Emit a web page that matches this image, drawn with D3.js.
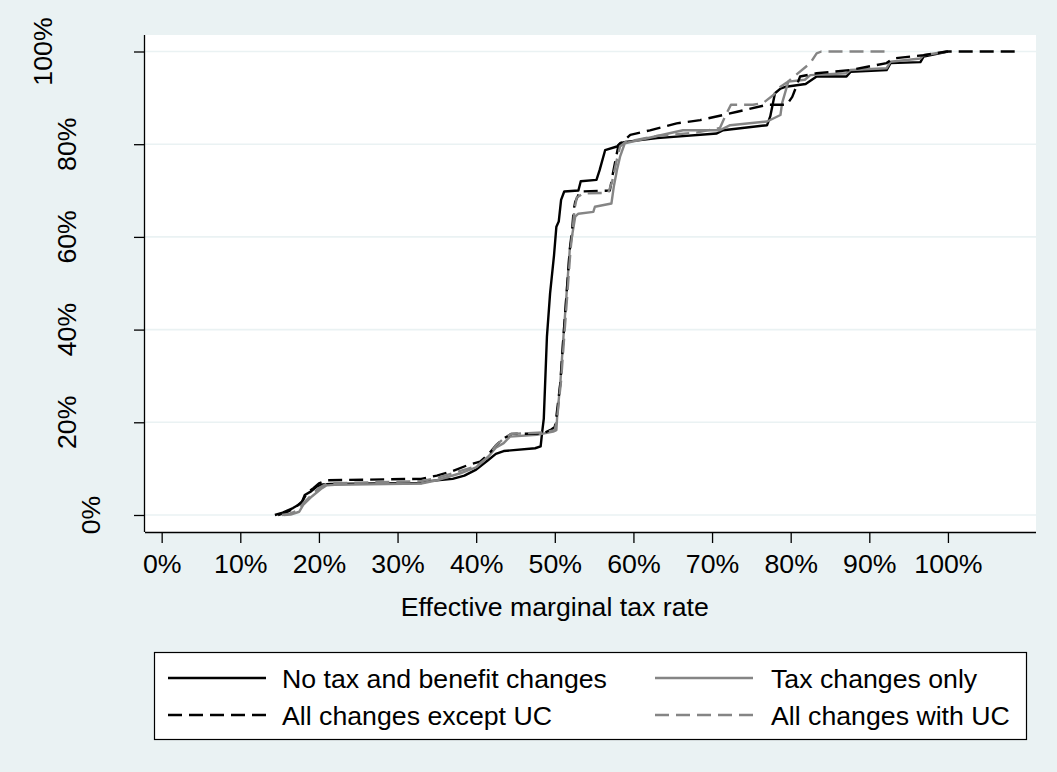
<!DOCTYPE html>
<html><head><meta charset="utf-8">
<script src="https://cdn.jsdelivr.net/npm/d3@7"></script>
<style>
body{margin:0;background:#eaf2f3;}
svg{display:block;font-family:"Liberation Sans",Arial,sans-serif;}
</style>
</head><body>
<svg id="chart" width="1057" height="772"></svg>
<script>
// ---- data (x = effective marginal tax rate %, y = cumulative share %) ----
const xTicks = [0,10,20,30,40,50,60,70,80,90,100];
const xTickLabels = ["0%","10%","20%","30%","40%","50%","60%","70%","80%","90%","100%"];
const yTicks = [0,20,40,60,80,100];
const yTickLabels = ["0%","20%","40%","60%","80%","100%"];
const xTitle = "Effective marginal tax rate";
const seriesNames = ["No tax and benefit changes","Tax changes only","All changes except UC","All changes with UC"];

const noChanges = [[14.4,0],[15.4,0.5],[16.7,1.5],[17.8,2.6],[18.2,4.3],[19.0,5.1],[19.7,6.1],[20.5,6.6],[21.5,6.7],[33,6.9],[34,7.3],[37,7.8],[38.5,8.5],[40,9.8],[41.5,11.8],[42.5,13.2],[43.5,13.8],[47.5,14.4],[48.2,14.8],[48.4,18],[48.6,20.8],[49.0,38.5],[49.4,47.8],[49.9,56],[50.2,62.2],[50.5,63.3],[50.8,68],[51.2,69.8],[53.0,70],[53.3,72],[55.3,72.3],[55.7,74.4],[56.4,78.7],[57.9,79.5],[58.3,80.2],[59,80.5],[63,81.3],[70.6,82.3],[71.4,83],[77,84.1],[77.4,86],[78,91],[78.7,92],[79.4,92.4],[81.9,93],[83.3,94.6],[87.1,94.6],[87.6,95.6],[92.2,96],[92.7,97.5],[96.5,97.7],[96.9,98.9],[100,100]];

const taxOnly = [[15.5,0],[16.4,0.1],[17.5,0.7],[18.0,2.2],[19.1,4],[20.4,5.8],[21.0,6.4],[22,6.5],[33,6.8],[35,7.5],[38,9],[40,10.3],[41.5,12.5],[42.5,14.5],[43.5,15.5],[44.3,16.9],[47.7,17.3],[49.8,18],[50.2,18.3],[50.3,21.2],[50.7,28.4],[51.1,38.5],[51.5,47.8],[51.9,57.2],[52.6,64.4],[53.0,65],[54.9,65.4],[55.1,66.5],[57.2,67.2],[57.5,70.8],[57.9,74.4],[58.3,77.3],[58.9,80.2],[66.3,83],[71,83],[72.3,84.1],[77,84.9],[78.7,86.3],[78.9,88.8],[79.7,93.5],[81.8,93.9],[82.5,94.9],[87.1,95.3],[87.6,96],[92.2,96.4],[92.7,97.8],[96.5,98.5],[96.9,99.2],[99.9,100]];

const exceptUC = [[14.8,0],[15.8,0.5],[17,1.6],[17.9,3],[18.5,4.8],[19.3,5.8],[20,6.8],[21,7.5],[33,7.8],[35,8.5],[37,9.5],[39,10.8],[40.5,11.5],[41.5,13],[42.5,15],[43.5,16.5],[44.5,17.5],[48.5,17.6],[49.6,18.5],[50.0,19],[50.2,21.2],[50.7,28.4],[51.1,38.5],[51.5,47.8],[51.9,57.2],[52.2,61.5],[52.4,65.8],[52.6,67.6],[53.2,69.8],[57,70],[57.4,73.8],[58.1,79.8],[59.6,82],[62.1,83],[65.5,84.5],[68.5,85.2],[71.4,86.3],[73.2,87],[77,88.5],[79.5,88.5],[80.2,90.2],[81.2,94.6],[83.3,95.3],[87.6,96],[92.2,97.5],[93,98.5],[96.9,99.2],[99.9,100],[109.2,100]];

const withUC = [[15.3,0],[16.3,0.3],[17.3,1],[18,2.5],[19,4.2],[20,5.8],[21,6.8],[33,7.3],[35,8],[38,9.5],[40,10.5],[41.5,12.5],[42.5,15],[43.5,16.5],[44.5,17.5],[48.5,17.8],[50,18.3],[50.3,21],[50.8,29],[51.2,38.5],[51.6,47.8],[52,57.2],[52.3,62],[52.5,66],[52.8,68.5],[53.6,69.4],[56.8,69.5],[57.3,72],[57.8,76],[58.3,79.5],[59,80.5],[63,81.8],[68,82.5],[71,83.5],[71.8,86.5],[72.4,88.5],[75.2,88.5],[76.5,88.9],[77.8,90.6],[78.7,92.4],[79.5,93.3],[82.5,97.5],[83.3,99.6],[83.9,100],[92.7,100]];

const seriesData = [noChanges, taxOnly, exceptUC, withUC];
const seriesColors = ["#000000","#858585","#000000","#858585"];
const seriesDash = [null,null,"14,7","14,7"];

// ---- layout ----
const FS = 26.7;
const LW = 2.4;
const svg = d3.select("#chart");
const bg = "#eaf2f3";
svg.append("rect").attr("width",1057).attr("height",772).attr("fill",bg);

const plot = {left:145, top:35, right:1036, bottom:532};
const x = d3.scaleLinear().domain([-2.12, 111.2]).range([plot.left, plot.right]);
const y = d3.scaleLinear().domain([-3.67, 103.56]).range([plot.bottom, plot.top]);

svg.append("rect").attr("x",plot.left).attr("y",plot.top)
  .attr("width",plot.right-plot.left).attr("height",plot.bottom-plot.top).attr("fill","#ffffff");

// gridlines
svg.append("g").selectAll("line").data(yTicks).join("line")
  .attr("x1",plot.left).attr("x2",plot.right)
  .attr("y1",d=>y(d)).attr("y2",d=>y(d))
  .attr("stroke",bg).attr("stroke-width",1.6);

// series
const line = d3.line().x(d=>x(d[0])).y(d=>y(d[1]));
seriesData.forEach((s,i)=>{
  svg.append("path").datum(s).attr("d",line)
    .attr("fill","none").attr("stroke",seriesColors[i])
    .attr("stroke-width",LW).attr("stroke-linejoin","round")
    .attr("stroke-dasharray",seriesDash[i]);
});

// x axis
const xAxis = d3.axisBottom(x).tickValues(xTicks).tickSize(11).tickPadding(11)
  .tickFormat((d,i)=>xTickLabels[i]);
const gx = svg.append("g").attr("transform",`translate(0,${plot.bottom})`).call(xAxis);
gx.select(".domain").attr("stroke","#000").attr("stroke-width",1.3)
  .attr("d",`M${plot.left},0.5H${plot.right}`);
gx.selectAll(".tick line").attr("stroke","#000").attr("stroke-width",1.3);
gx.selectAll(".tick text").attr("font-size",FS).attr("fill","#000")
  .attr("font-family","'Liberation Sans',Arial,sans-serif");

// y axis
const yAxis = d3.axisLeft(y).tickValues(yTicks).tickSize(11).tickFormat("");
const gy = svg.append("g").attr("transform",`translate(${plot.left},0)`).call(yAxis);
gy.select(".domain").attr("stroke","#000").attr("stroke-width",1.3)
  .attr("d",`M-0.5,${plot.top}V${plot.bottom}`);
gy.selectAll(".tick line").attr("stroke","#000").attr("stroke-width",1.3);

const ylab = svg.append("g").selectAll("text").data(yTicks).join("text")
  .attr("font-size",FS).attr("fill","#000")
  .attr("text-anchor","middle").attr("dominant-baseline","central")
  .text((d,i)=>yTickLabels[i]);
ylab.each(function(d){
  const w = this.getComputedTextLength();
  const cx = plot.left + 7.3 - 1.6*w;
  d3.select(this).attr("transform",`translate(${cx},${y(d)}) rotate(-90)`);
});

// x title
svg.append("text").attr("x",x(50)).attr("y",616).attr("text-anchor","middle")
  .attr("font-size",FS).attr("fill","#000").text(xTitle);

// legend
const lg = svg.append("g");
lg.append("rect").attr("x",154.5).attr("y",652.5).attr("width",872).attr("height",87)
  .attr("fill","#fff").attr("stroke","#000").attr("stroke-width",1.2);
const legPos = [
  {lx:168, tx:282, ly:678},
  {lx:655, tx:771, ly:678},
  {lx:168, tx:282, ly:715},
  {lx:655, tx:771, ly:715}
];
seriesNames.forEach((n,i)=>{
  const p = legPos[i];
  lg.append("line").attr("x1",p.lx).attr("x2",p.lx+98).attr("y1",p.ly).attr("y2",p.ly)
    .attr("stroke",seriesColors[i]).attr("stroke-width",LW).attr("stroke-dasharray",seriesDash[i]);
  lg.append("text").attr("x",p.tx).attr("y",p.ly+9.5).attr("font-size",FS).attr("fill","#000").text(n);
});
</script>
</body></html>
